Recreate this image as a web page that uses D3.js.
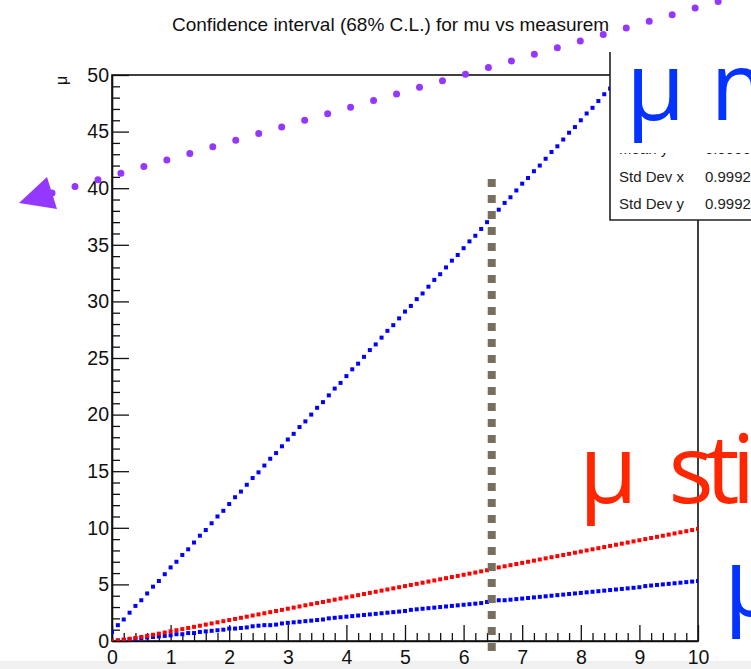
<!DOCTYPE html>
<html><head><meta charset="utf-8">
<script src="https://cdn.jsdelivr.net/npm/d3@7"></script>
<style>html,body{margin:0;padding:0;background:#fff;overflow:hidden}</style>
</head><body>
<svg id="c" width="751" height="669"></svg>
<script>
// ---- data ----
const xValues = [0.0,0.1,0.2,0.3,0.4,0.5,0.6,0.7,0.8,0.9,
 1.0,1.1,1.2,1.3,1.4,1.5,1.6,1.7,1.8,1.9,
 2.0,2.1,2.2,2.3,2.4,2.5,2.6,2.7,2.8,2.9,
 3.0,3.1,3.2,3.3,3.4,3.5,3.6,3.7,3.8,3.9,
 4.0,4.1,4.2,4.3,4.4,4.5,4.6,4.7,4.8,4.9,
 5.0,5.1,5.2,5.3,5.4,5.5,5.6,5.7,5.8,5.9,
 6.0,6.1,6.2,6.3,6.4,6.5,6.6,6.7,6.8,6.9,
 7.0,7.1,7.2,7.3,7.4,7.5,7.6,7.7,7.8,7.9,
 8.0,8.1,8.2,8.3,8.4,8.5,8.6,8.7,8.8,8.9,
 9.0,9.1,9.2,9.3,9.4,9.5,9.6,9.7,9.8,9.9,10.0];
const muUpper = [0.8,1.4,1.9,2.5,3.1,3.6,4.2,4.8,5.3,5.9,
 6.5,7.0,7.6,8.1,8.7,9.3,9.8,10.4,11.0,11.5,
 12.1,12.7,13.2,13.8,14.4,14.9,15.5,16.1,16.6,17.2,
 17.8,18.3,18.9,19.4,20.0,20.6,21.1,21.7,22.3,22.8,
 23.4,24.0,24.5,25.1,25.7,26.2,26.8,27.4,27.9,28.5,
 29.1,29.6,30.2,30.7,31.3,31.9,32.4,33.0,33.6,34.1,
 34.7,35.3,35.8,36.4,37.0,37.5,38.1,38.7,39.2,39.8,
 40.4,40.9,41.5,42.0,42.6,43.2,43.7,44.3,44.9,45.4,
 46.0,46.6,47.1,47.7,48.3,48.8,49.4,50.0,50.5,51.1,
 51.7,52.2,52.8,53.3,53.9,54.5,55.0,55.6,56.2,56.7,57.3];
const muEstimate = [0.00,0.05,0.12,0.20,0.28,0.36,0.45,0.55,0.65,0.75,
 0.85,0.95,1.05,1.15,1.25,1.35,1.45,1.55,1.65,1.75,
 1.85,1.95,2.05,2.15,2.25,2.35,2.45,2.55,2.65,2.75,
 2.85,2.95,3.05,3.15,3.25,3.35,3.45,3.55,3.65,3.75,
 3.85,3.95,4.05,4.15,4.25,4.35,4.45,4.55,4.65,4.75,
 4.85,4.95,5.05,5.15,5.25,5.35,5.45,5.55,5.65,5.75,
 5.85,5.95,6.05,6.15,6.25,6.40,6.50,6.60,6.70,6.80,
 6.90,7.00,7.10,7.20,7.30,7.40,7.50,7.60,7.70,7.80,
 7.90,8.00,8.10,8.20,8.30,8.40,8.50,8.60,8.70,8.80,
 8.90,9.00,9.10,9.20,9.30,9.40,9.50,9.60,9.70,9.80,9.90];
const muLower = [0.00,0.05,0.10,0.15,0.20,0.25,0.30,0.35,0.40,0.45,
 0.50,0.60,0.60,0.70,0.70,0.80,0.85,0.90,0.95,1.00,
 1.10,1.10,1.15,1.20,1.30,1.35,1.40,1.40,1.45,1.55,
 1.60,1.65,1.70,1.75,1.80,1.85,1.90,2.00,2.05,2.10,
 2.15,2.20,2.25,2.30,2.35,2.40,2.45,2.50,2.55,2.60,
 2.65,2.75,2.80,2.85,2.90,2.95,3.00,3.05,3.10,3.15,
 3.20,3.25,3.30,3.35,3.45,3.55,3.60,3.60,3.65,3.70,
 3.75,3.80,3.85,3.90,3.95,4.00,4.05,4.10,4.15,4.20,
 4.25,4.30,4.35,4.40,4.45,4.50,4.55,4.60,4.65,4.70,
 4.75,4.85,4.90,4.95,5.00,5.05,5.10,5.15,5.20,5.25,5.30];
const xTickValues = [0,1,2,3,4,5,6,7,8,9,10];
const yTickValues = [0,5,10,15,20,25,30,35,40,45,50];
const measuredValue = 6.48;
const titleText = "Confidence interval (68% C.L.) for mu vs measurement";
const statsRows = [["Mean y","0.9996"],["Std Dev x","0.9992"],["Std Dev y","0.9992"]];

// ---- drawing ----
const svg = d3.select("#c");
const W = 751, H = 669;
const x = d3.scaleLinear().domain([0,10]).range([112,698]);
const y = d3.scaleLinear().domain([0,50]).range([641,75]);
const FONT = "'Liberation Sans', Arial, Helvetica, sans-serif";

svg.append("rect").attr("width",W).attr("height",H).attr("fill","#fff");
svg.append("rect").attr("x",0).attr("y",661).attr("width",W).attr("height",8).attr("fill","#f0f0f0");

svg.append("text").attr("x",172).attr("y",31).attr("font-family",FONT).attr("font-size",19)
  .attr("fill","#111").text(titleText);

svg.append("defs").append("clipPath").attr("id","fr").append("rect")
  .attr("x",112).attr("y",75).attr("width",586).attr("height",566);

// axes
const minorX = d3.range(0,10.001,0.2).map(v=>+v.toFixed(2)).filter(v=>Math.abs(v-Math.round(v))>1e-6);
const minorY = d3.range(0,50.001,1).filter(v=>v%5!==0);
const gx = svg.append("g").attr("transform",`translate(0,${y(0)})`)
  .call(d3.axisBottom(x).tickValues(xTickValues).tickSizeInner(-16).tickSizeOuter(0).tickPadding(9).tickFormat(d3.format("d")));
const gxm = svg.append("g").attr("transform",`translate(0,${y(0)})`)
  .call(d3.axisBottom(x).tickValues(minorX).tickSizeInner(-8).tickSizeOuter(0).tickFormat(""));
const gy = svg.append("g").attr("transform",`translate(${x(0)},0)`)
  .call(d3.axisLeft(y).tickValues(yTickValues).tickSizeInner(-17).tickSizeOuter(0).tickPadding(3).tickFormat(d3.format("d")));
const gym = svg.append("g").attr("transform",`translate(${x(0)},0)`)
  .call(d3.axisLeft(y).tickValues(minorY).tickSizeInner(-8).tickSizeOuter(0).tickFormat(""));
[gx,gxm,gy,gym].forEach(g=>{
  g.selectAll("path").attr("stroke","#111").attr("stroke-width",1.6);
  g.selectAll("line").attr("stroke","#111").attr("stroke-width",1.3);
  g.selectAll("text").attr("font-family",FONT).attr("font-size",19.5).attr("fill","#111");
});
gxm.select("path").remove(); gym.select("path").remove();

// frame
svg.append("rect").attr("x",112).attr("y",75).attr("width",586).attr("height",566)
  .attr("fill","none").attr("stroke","#111").attr("stroke-width",1.6);

// y title
svg.append("text").attr("transform","translate(67,85) rotate(-90)").attr("font-family",FONT)
  .attr("font-size",16).attr("fill","#111").text("μ");

// data markers
const plot = svg.append("g").attr("clip-path","url(#fr)");
function series(vals,color){
  plot.append("g").selectAll("rect").data(xValues.map((xv,i)=>[xv,vals[i]])).join("rect")
    .attr("x",d=>x(d[0])-2).attr("y",d=>y(d[1])-2).attr("width",4).attr("height",4).attr("fill",color);
}
series(muLower,"#0000ff");
series(muEstimate,"#ff0000");
series(muUpper,"#0000ff");

// measurement dashed line
svg.append("line").attr("x1",x(measuredValue)).attr("x2",x(measuredValue))
  .attr("y1",179).attr("y2",651).attr("stroke","#766f5f").attr("stroke-width",8)
  .attr("stroke-dasharray","8 8");

// overlay box + stats
svg.append("rect").attr("x",610).attr("y",0).attr("width",141).attr("height",220).attr("fill","#fff");
const st = svg.append("g").attr("font-family",FONT).attr("font-size",15).attr("fill","#222");
statsRows.forEach((r,i)=>{
  const yy = 154 + i*27.5;
  st.append("text").attr("x",619).attr("y",yy).text(r[0]);
  st.append("text").attr("x",705).attr("y",yy).text(r[1]);
});
svg.append("rect").attr("x",611).attr("y",0).attr("width",140).attr("height",153).attr("fill","#fff");
svg.append("path").attr("d","M610,52V220H751").attr("fill","none").attr("stroke","#222").attr("stroke-width",1.6);

// big annotation labels
const BIG = "'Open Sans', sans-serif";
svg.append("text").attr("x",626).attr("y",120).attr("font-family",BIG).attr("font-size",96).attr("fill","#0433ff").text("μ m");
const red = svg.append("text").attr("x",579).attr("y",503).attr("font-family",BIG).attr("font-size",95).attr("fill","#ff2600");
red.append("tspan").text("μ");
red.append("tspan").attr("dx",14).attr("letter-spacing",-8).text(" sti");
svg.append("text").attr("x",724).attr("y",616).attr("font-family",BIG).attr("font-size",96).attr("fill","#0433ff").text("μ");

// purple dotted arrow
svg.append("path").attr("d","M52,193 L772,-14").attr("fill","none").attr("stroke","#9437ff")
  .attr("stroke-width",7).attr("stroke-linecap","round").attr("stroke-dasharray","0 23.9");
svg.append("path").attr("d","M19,203 L47,177 L57,209 Z").attr("fill","#9437ff");
</script>
</body></html>
